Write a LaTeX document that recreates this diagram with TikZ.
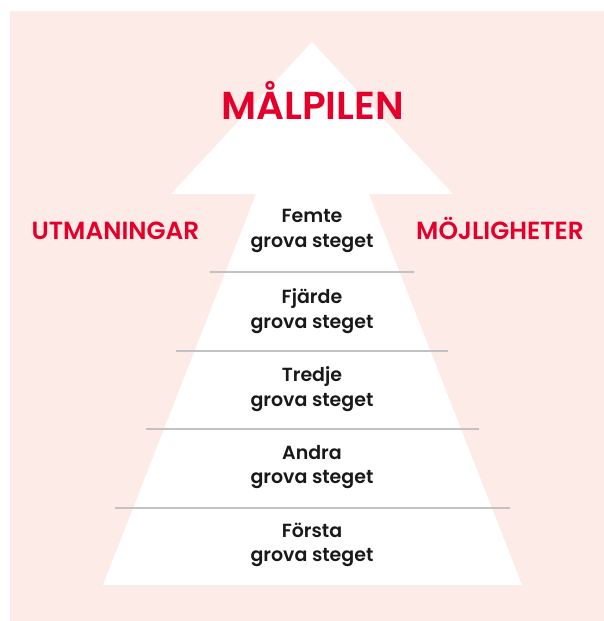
\documentclass[tikz,border=0pt]{standalone}
\usepackage{fontspec}
\setmainfont{Poppins}
\newfontfamily\halvfet{Poppins SemiBold}
\definecolor{bakgrund}{HTML}{FDEBE8}
\definecolor{malrod}{HTML}{E4002B}
\definecolor{linje}{HTML}{C2C2C2}
\tikzset{
  steg/.style={align=center, font=\halvfet\fontsize{19}{24.5}\selectfont, text=black!90},
  rubrik/.style={anchor=base, font=\halvfet\fontsize{24.8}{28}\selectfont, text=malrod},
  delning/.style={draw=linje, line width=2pt}
}
\begin{document}
\begin{tikzpicture}[x=1pt,y=-1pt]
    \useasboundingbox (0,0) rectangle (604,621);
    \fill[bakgrund] (10,11) rectangle (604,621);

    % pilen
    \fill[white] (312,42) -- (453,194) -- (369,194) -- (522,585)
      -- (103,585) -- (256,194) -- (171,194) -- cycle;

    \draw[delning] (210,272) -- (414,272);
    \draw[delning] (176,351) -- (448,351);
    \draw[delning] (146,429) -- (479,429);
    \draw[delning] (115,508) -- (510,508);

    \node[rubrik, font=\halvfet\fontsize{39}{42}\selectfont] (mal) at (312.5,119) {MÅLPILEN};
    \node[rubrik] (utm) at (115.5,239) {UTMANINGAR};
    \node[rubrik] (moj) at (500,239) {MÖJLIGHETER};

    \node[steg] (femte) at (312,231) {Femte\\grova steget};
    \node[steg] (fjarde) at (312,311) {Fjärde\\grova steget};
    \node[steg] (tredje) at (312,389) {Tredje\\grova steget};
    \node[steg] (andra) at (312,467) {Andra\\grova steget};
    \node[steg] (forsta) at (312,545) {Första\\grova steget};
  \end{tikzpicture}
\end{document}
